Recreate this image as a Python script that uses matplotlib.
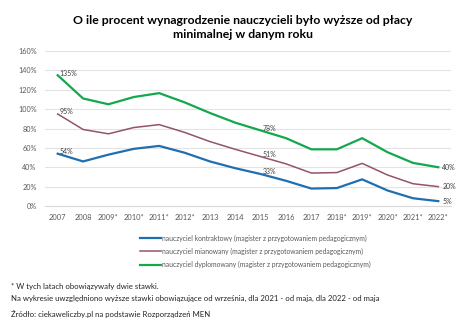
import matplotlib.pyplot as plt

plt.rcParams['font.family'] = ['Lato', 'DejaVu Sans']

# Data
years = ["2007", "2008", "2009*", "2010*", "2011*", "2012*", "2013", "2014",
         "2015", "2016", "2017", "2018*", "2019*", "2020*", "2021*", "2022*"]
kontraktowy = [54, 46, 53, 59, 62, 55, 46, 39, 33, 26, 18, 18.5, 27.5, 16, 8, 5]
mianowany = [95, 79, 74.5, 81, 84, 76, 66.5, 58.5, 51, 43.5, 34, 34.5, 44, 32, 23, 20]
dyplomowany = [135, 111, 105, 112.5, 116.5, 107, 96, 86, 78, 70, 58.5, 58.5, 70, 55.5, 44.5, 40]
series_names = ["nauczyciel kontraktowy (magister z przygotowaniem pedagogicznym)",
                "nauczyciel mianowany (magister z przygotowaniem pedagogicznym)",
                "nauczyciel dyplomowany (magister z przygotowaniem pedagogicznym)"]
# indices of labelled points per series
label_idx = [0, 8, 15]

fig = plt.figure(figsize=(4.67, 3.27), dpi=100)
ax = fig.add_axes([45 / 467, 1 - 206 / 327, (451 - 45) / 467, (206 - 51) / 327])

x = list(range(len(years)))
colors = ['#1f6fb0', '#935469', '#12a84b']
widths = [1.6, 1.1, 1.6]
all_series = [kontraktowy, mianowany, dyplomowany]
lines = []
for vals, c, w, name in zip(all_series, colors, widths, series_names):
    ln, = ax.plot(x, vals, color=c, linewidth=w, label=name, solid_joinstyle='round')
    lines.append(ln)
    for i in label_idx:
        if i == len(years) - 1:
            ax.annotate(f"{vals[i]:.0f}%", (i, vals[i]), xytext=(3, 0), textcoords='offset points',
                        ha='left', va='center', fontsize=5, color='#404040')
        else:
            ax.annotate(f"{vals[i]:.0f}%", (i, vals[i]), xytext=(1.5, 1.5), textcoords='offset points',
                        ha='left', va='center', fontsize=5, color='#404040')

ax.set_xlim(-0.5, len(years) - 0.5)
ax.set_ylim(0, 160)
ax.set_yticks(range(0, 161, 20))
ax.set_yticklabels([f"{v}%" for v in range(0, 161, 20)])
ax.set_xticks(x)
ax.set_xticklabels(years)
ax.grid(axis='y', color='#e3e3e3', linewidth=0.8)
ax.set_axisbelow(True)
for s in ['top', 'right', 'left']:
    ax.spines[s].set_visible(False)
ax.spines['bottom'].set_color('#d9d9d9')
ax.tick_params(axis='x', length=0, labelsize=5.4, colors='#595959', pad=6)
ax.tick_params(axis='y', length=0, labelsize=5.2, colors='#595959', pad=6)

fig.text(0.52, 1 - 20 / 327, "O ile procent wynagrodzenie nauczycieli było wyższe od płacy",
         ha='center', va='center', fontsize=8.8, fontweight='bold', color='#000000')
fig.text(0.52, 1 - 34.5 / 327, "minimalnej w danym roku",
         ha='center', va='center', fontsize=8.8, fontweight='bold', color='#000000')

leg = fig.legend(handles=lines, loc='upper left', bbox_to_anchor=(137 / 467, 1 - 231 / 327),
                 frameon=False, fontsize=4.9, handlelength=3.0, handletextpad=0.1,
                 labelspacing=0.9, borderpad=0)
for t in leg.get_texts():
    t.set_color('#595959')

fig.text(11 / 467, 1 - 286 / 327, "* W tych latach obowiązywały dwie stawki.",
         ha='left', va='center', fontsize=5.6, color='#222222')
fig.text(11 / 467, 1 - 298 / 327,
         "Na wykresie uwzględniono wyższe stawki obowiązujące od września, dla 2021 - od maja, dla 2022 - od maja",
         ha='left', va='center', fontsize=5.6, color='#222222')
fig.text(11 / 467, 1 - 313.5 / 327, "Źródło: ciekaweliczby.pl na podstawie Rozporządzeń MEN",
         ha='left', va='center', fontsize=5.6, color='#222222')

fig.savefig("out.png", dpi=100)
